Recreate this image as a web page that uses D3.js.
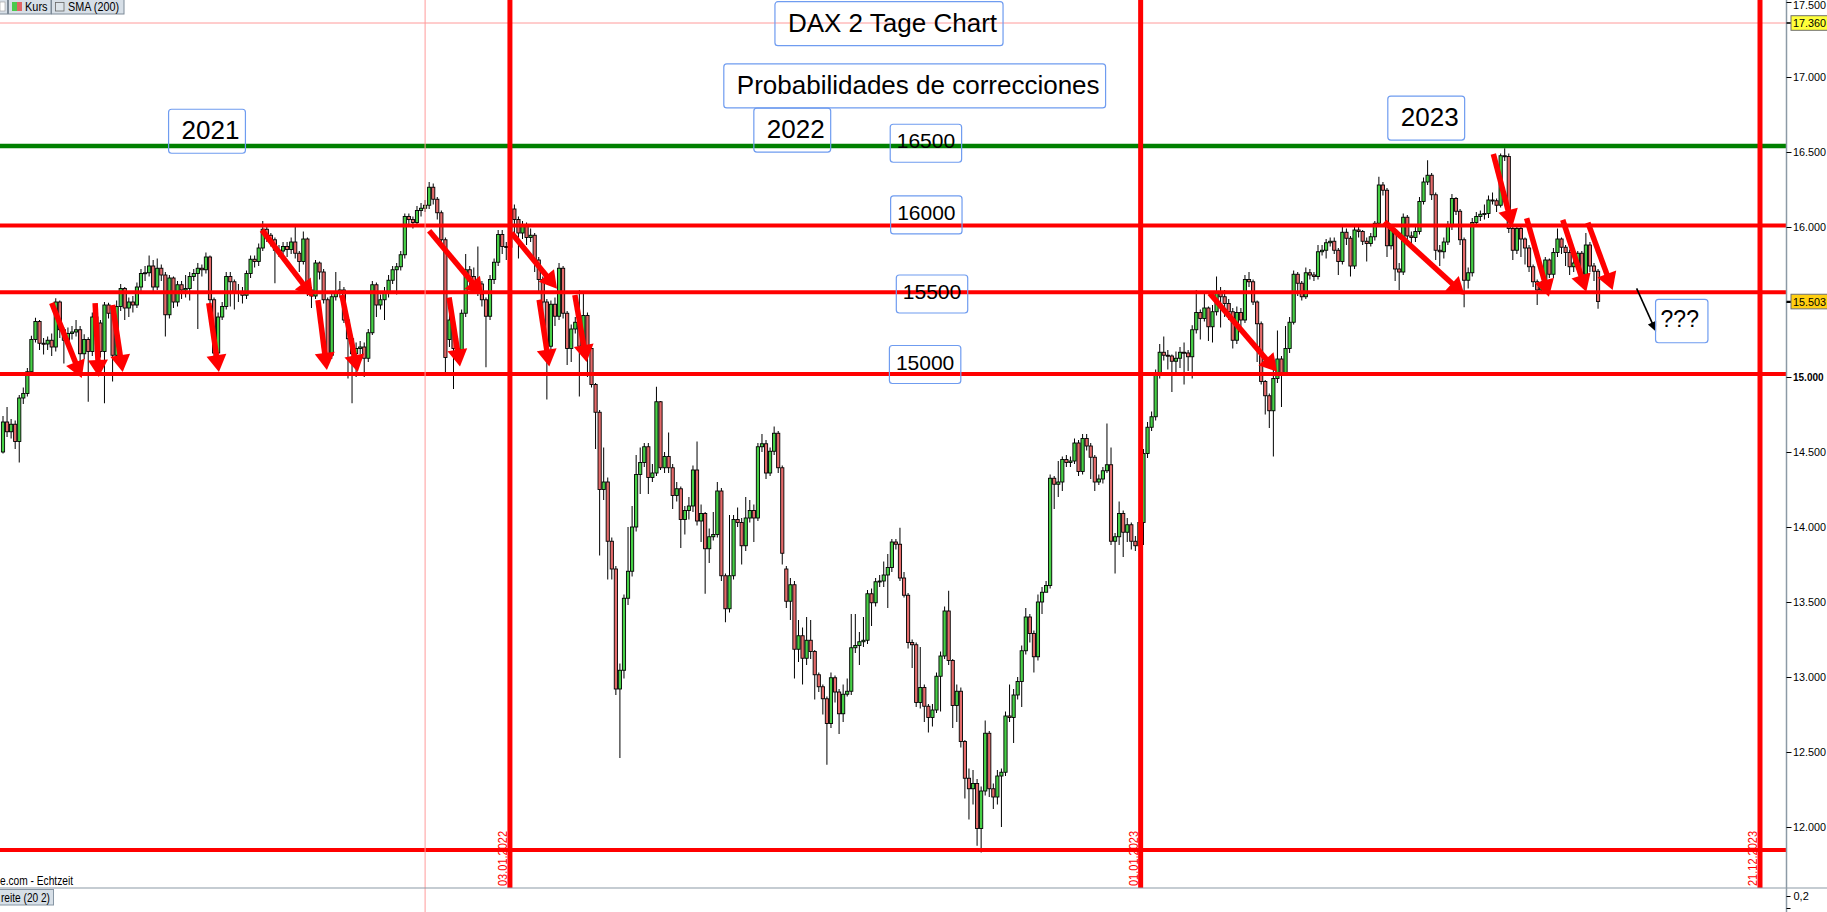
<!DOCTYPE html>
<html><head><meta charset="utf-8">
<script src="https://cdn.jsdelivr.net/npm/d3@7"></script>
<style>
html,body{margin:0;padding:0;background:#fff;overflow:hidden}
svg{display:block;font-family:"Liberation Sans",Arial,sans-serif}
</style></head><body>
<svg id="c" width="1827" height="912"></svg>
<script>
// ---------- DATA (2-day candles, DAX) ----------
const OPEN=[
14500,14700,14635,14685,14570,14860,14890,15035,15250,15370,
15225,15220,15245,15200,15500,15315,15245,15290,15300,15315,
15155,15250,15170,15400,15360,15170,15480,15425,15145,15470,
15590,15460,15500,15480,15600,15690,15695,15740,15600,15725,
15680,15415,15660,15500,15615,15580,15590,15670,15690,15725,
15715,15800,15515,15160,15400,15470,15670,15635,15570,15560,
15545,15690,15785,15770,15860,15985,15945,15915,15845,15840,
15870,15850,15900,15825,15770,15920,15580,15540,15760,15700,
15515,15145,15535,15570,15580,15380,15255,15155,15190,15200,
15125,15295,15615,15480,15515,15560,15645,15715,15735,15815,
16070,16050,16030,16110,16125,16145,16265,16185,16095,15915,
15250,15340,15190,15180,15425,15715,15670,15635,15620,15515,
15405,15650,15765,15950,15870,15865,16120,16050,15960,16005,
15930,15945,15780,15650,15500,15205,15485,15405,15725,15425,
15190,15320,15365,15205,15410,15190,14950,14765,14250,14300,
13905,13720,12920,13045,13525,13705,14000,14350,14430,14535,
14330,14360,14835,14395,14470,14395,14210,14255,14050,14110,
14140,14380,14040,14090,13855,13935,13950,14240,13675,13455,
13675,14050,14030,13875,14060,14110,14060,14535,14555,14360,
14505,14625,14395,13720,13505,13615,13185,13275,13125,13245,
13170,13015,12935,12855,12690,12995,12900,12755,12885,12905,
13195,13210,13235,13245,13555,13495,13635,13640,13680,13730,
13900,13885,13660,13545,13230,13215,12830,12930,12805,12730,
12780,13005,13140,13440,13110,12810,12905,12570,12325,12255,
12290,11990,12240,12625,12255,12200,12340,12365,12740,12730,
12880,12970,13175,13400,13290,13135,13500,13565,13610,14325,
14285,14300,14450,14430,14440,14560,14370,14590,14540,14465,
14300,14320,14375,14415,13905,13935,14090,13965,14015,13905,
13875,14030,14490,14665,14735,15015,15165,15145,15140,15105,
15125,15165,15160,15135,15315,15430,15390,15460,15335,15435,
15560,15535,15490,15435,15245,15430,15380,15650,15635,15500,
15355,14970,14875,14775,14990,15120,15030,15190,15365,15685,
15625,15535,15695,15680,15670,15835,15845,15895,15905,15845,
15770,15965,15925,15740,15980,15970,15905,15890,15935,16025,
16280,16245,15875,15980,15720,15700,16065,15940,15930,15970,
16170,16300,16345,16215,15845,15835,15900,16005,16190,16105,
15915,15645,15695,16030,16070,16085,16090,16180,16175,16145,
16475,16470,15990,15845,15990,15920,15860,15735,15635,15580,
15600,15780,15685,15830,15920,15865,15830,15735,15760,15825,
15685,15880,15740,15705];
const HIGH=[
14740,14800,14720,14710,14880,14930,15060,15275,15395,15380,
15260,15270,15290,15525,15510,15330,15330,15340,15380,15340,
15285,15265,15430,15420,15380,15500,15495,15440,15510,15620,
15600,15530,15540,15630,15720,15740,15810,15780,15790,15750,
15700,15680,15670,15640,15640,15680,15700,15720,15760,15750,
15830,15810,15530,15430,15500,15700,15700,15650,15620,15600,
15710,15810,15810,15890,16040,16000,15960,15930,15880,15900,
15900,15930,16000,15840,15970,15930,15600,15780,15770,15720,
15530,15560,15700,15640,15600,15400,15270,15230,15240,15230,
15320,15640,15630,15550,15600,15680,15740,15760,15840,16090,
16090,16070,16140,16160,16180,16300,16290,16200,16110,15930,
15420,15400,15260,15450,15820,15740,15730,15870,15640,15530,
15680,15790,15980,15980,15900,16295,16150,16070,16040,16030,
15990,15960,15800,15670,15520,15510,15530,15760,15740,15440,
15350,15400,15580,15560,15430,15200,14960,14780,14530,14330,
13930,13740,13090,13550,14000,14140,14480,14530,14560,14560,
14420,14935,14840,14500,14630,14420,14300,14270,14140,14200,
14410,14570,14150,14100,13990,14100,14300,14260,13690,14080,
14080,14130,14060,14200,14180,14150,14560,14620,14580,14530,
14670,14640,14410,13740,13660,13640,13380,13330,13400,13380,
13180,13030,12950,12870,13030,13010,12920,12950,12990,13420,
13420,13300,13400,13580,13590,13660,13680,13770,13820,13920,
13920,13995,13700,13560,13250,13230,13200,12950,12820,12820,
13030,13170,13470,13575,13120,12950,12930,12580,12390,12380,
12320,12270,12710,12640,12290,12380,12390,12770,12950,12920,
13000,13210,13460,13420,13310,13550,13600,13640,14350,14340,
14440,14470,14480,14470,14590,14580,14620,14620,14560,14480,
14350,14400,14690,14530,13960,14170,14110,14060,14030,13940,
14090,14520,14700,14770,15050,15220,15270,15180,15150,15170,
15200,15230,15180,15345,15580,15450,15560,15470,15480,15670,
15600,15580,15520,15460,15470,15460,15680,15700,15650,15510,
15370,14980,14890,15050,15310,15140,15340,15400,15710,15700,
15640,15730,15720,15700,15880,15880,15920,15930,15930,15860,
16000,15990,15940,16010,16010,15980,15930,15960,16040,16335,
16300,16260,16010,15990,15760,16090,16080,15970,16010,16200,
16330,16445,16360,16230,15880,15930,16040,16220,16200,16120,
15930,15730,16060,16100,16110,16150,16210,16230,16190,16490,
16525,16490,16000,16010,16000,15930,15880,15750,15650,15640,
15800,15790,15860,15990,15930,15880,15850,15800,15840,15840,
15960,15900,15760,15720];
const LOW=[
14490,14600,14590,14520,14430,14820,14870,15010,15230,15180,
15150,15180,15140,15170,15260,15090,15220,15250,15270,15100,
15120,14835,15140,15300,15130,14825,15390,14970,15120,15440,
15380,15400,15430,15460,15570,15640,15670,15560,15580,15640,
15270,15390,15460,15470,15520,15530,15510,15640,15320,15670,
15690,15480,15140,15140,15380,15450,15470,15450,15500,15490,
15520,15660,15730,15740,15840,15900,15870,15625,15800,15810,
15800,15820,15790,15700,15750,15540,15460,15520,15650,15490,
15120,15120,15510,15530,15360,14990,14825,15000,15150,15000,
15100,15280,15400,15450,15380,15530,15620,15550,15710,15790,
16010,15990,16000,16070,16100,16120,16150,16050,15880,15025,
15200,14920,15120,15160,15400,15600,15580,15540,15470,15065,
15380,15620,15740,15820,15780,15850,15960,15790,15920,15880,
15900,15700,15560,15350,14850,15170,15340,15380,15390,15080,
15100,15290,14870,15180,15000,14930,14520,13810,14180,13650,
13650,12880,12460,12990,13480,13670,13970,14220,14400,14220,
14300,14340,14380,14360,14360,14120,14170,13860,13950,14050,
14100,14010,13900,13555,13760,13910,13930,13640,13365,13430,
13650,14000,13750,13840,14030,13900,14040,14500,14320,14340,
14480,14360,13750,13460,13380,12990,13100,12950,13080,13120,
12850,12900,12750,12415,12660,12830,12620,12700,12870,12880,
13160,13080,13200,13220,13340,13470,13600,13600,13460,13700,
13850,13640,13530,13190,13060,12800,12790,12700,12630,12670,
12760,12770,13120,13080,12660,12700,12530,12190,12050,12150,
11875,11830,12210,12200,12120,12150,12000,12340,12700,12560,
12850,12800,13150,13230,13030,13110,13420,13570,13590,14120,
14200,14240,14400,14400,14420,14340,14350,14510,14320,14240,
14280,14290,14360,13880,13690,13880,13800,13900,13850,13840,
13800,13880,14460,14640,14710,14990,15110,15050,14900,15020,
15060,14950,15040,14990,15290,15250,15370,15240,15230,15410,
15330,15400,15380,15190,15220,15300,15360,15600,15480,15100,
14950,14750,14660,14470,14960,14800,15010,15160,15350,15540,
15510,15520,15650,15640,15650,15810,15790,15870,15820,15680,
15750,15880,15670,15720,15930,15880,15770,15870,15910,16000,
16210,15800,15850,15640,15580,15680,15900,15880,15900,15950,
16150,16280,16180,15780,15740,15790,15880,15980,16080,15880,
15465,15590,15670,16000,16040,16050,16060,16150,16100,16130,
16440,15960,15780,15820,15800,15750,15700,15600,15480,15560,
15580,15660,15660,15800,15820,15740,15680,15700,15730,15620,
15660,15700,15640,15455];
const CLOSE=[
14700,14635,14685,14570,14860,14890,15035,15250,15370,15225,
15220,15245,15200,15500,15315,15245,15290,15300,15315,15155,
15250,15170,15400,15360,15170,15480,15425,15145,15470,15590,
15460,15500,15480,15600,15690,15695,15740,15600,15725,15680,
15415,15660,15500,15615,15580,15590,15670,15690,15725,15715,
15800,15515,15160,15400,15470,15670,15635,15570,15560,15545,
15690,15785,15770,15860,15985,15945,15915,15845,15840,15870,
15850,15900,15825,15770,15920,15580,15540,15760,15700,15515,
15145,15535,15570,15580,15380,15255,15155,15190,15200,15125,
15295,15615,15480,15515,15560,15645,15715,15735,15815,16070,
16050,16030,16110,16125,16145,16265,16185,16095,15915,15130,
15380,15190,15180,15425,15715,15670,15635,15620,15515,15405,
15650,15765,15950,15870,15865,16120,16050,15960,16005,15930,
15945,15780,15650,15500,15205,15485,15405,15725,15425,15190,
15320,15365,15205,15410,15190,14950,14765,14250,14300,13905,
13720,12920,13045,13525,13705,14000,14350,14430,14535,14330,
14360,14835,14395,14470,14395,14210,14255,14050,14110,14140,
14380,14040,14090,13855,13935,13950,14240,13675,13455,13675,
14050,14030,13875,14060,14110,14060,14535,14555,14360,14505,
14625,14395,13825,13505,13615,13185,13275,13125,13245,13170,
13015,12935,12855,12690,12995,12900,12755,12885,12905,13195,
13210,13235,13245,13555,13495,13635,13640,13680,13730,13900,
13885,13660,13545,13230,13215,12830,12930,12805,12730,12780,
13005,13140,13440,13110,12810,12905,12570,12325,12255,12290,
11990,12240,12625,12255,12200,12340,12365,12740,12730,12880,
12970,13175,13400,13290,13135,13500,13565,13610,14325,14285,
14300,14450,14430,14440,14560,14370,14590,14540,14465,14300,
14320,14375,14415,13905,13935,14090,13965,14015,13905,13875,
14030,14490,14665,14735,15015,15165,15145,15140,15105,15125,
15165,15160,15135,15315,15430,15390,15460,15335,15435,15560,
15535,15490,15435,15245,15430,15380,15650,15635,15500,15355,
14970,14875,14775,14990,15120,15030,15190,15365,15685,15625,
15535,15695,15680,15670,15835,15845,15895,15905,15845,15770,
15965,15925,15740,15980,15970,15905,15890,15935,16025,16280,
16245,15875,15980,15720,15700,16065,15940,15930,15970,16170,
16300,16345,16215,15845,15835,15900,16005,16190,16105,15915,
15645,15695,16030,16070,16085,16090,16180,16175,16145,16475,
16470,15990,15845,15990,15920,15860,15735,15635,15580,15600,
15780,15685,15830,15920,15865,15830,15735,15760,15825,15685,
15880,15740,15705,15503];

const yTicks=[12000,12500,13000,13500,14000,14500,15000,15500,16000,16500,17000,17500];
const redLevels=[16010,15565,15020,11847];
const greenLevels=[16540];
const dateLines=[{label:"03.01.2022",idx:124.9},{label:"01.01.2023",idx:280.3},{label:"21.12.2023",idx:432.9}];
// red arrows: [startIdx, startPrice, endIdx, endPrice]
const redArrows=[
[12.0,15493,19.4,14993],[22.7,15493,23.6,15000],[27.0,15480,29.5,15033],
[50.7,15493,53.2,15033],[63.8,15980,76.4,15533],[77.6,15513,79.8,15047],
[83.5,15547,87.4,15033],[105.0,15975,118.3,15545],[109.9,15530,112.6,15070],
[125.3,15960,136.5,15589],[132.1,15515,134.6,15070],[140.9,15547,143.8,15100],
[297.3,15558,313.9,15035],[340.4,16035,360.1,15547],[367.2,16487,371.9,16002],
[375.4,16058,380.9,15535],[384.3,16047,390.1,15569],[390.5,16029,396.6,15580]];
const blackArrows=[[402.5,15591,407.3,15302]];
// text labels: text, anchor index, baseline price, style
const labelTexts=["DAX 2 Tage Chart","Probabilidades de correcciones","2021","2022","2023","16500","16000","15500","15000","???"];
const labelIdx=[193.4,180.8,44.0,188.2,344.4,220.2,220.3,221.7,220.0,408.4];
const labelPrice=[17302,16887,16585,16593,16673,16525,16047,15520,15050,15335];
const labelKind=["big","big","big","big","big","small","small","small","small","q"];
const crossIdx=104, crossPrice=17360;

// ---------- CHART ----------
const svg=d3.select("#c");
const plotRight=1786.5, plotBottom=888;
const x=d3.scaleLinear().domain([0,432.9]).range([3,1760]);
const y=d3.scaleLinear().domain([11500,17500]).range([902,2]);

svg.append("defs").append("clipPath").attr("id","clip").append("rect")
  .attr("x",0).attr("y",0).attr("width",plotRight).attr("height",plotBottom);
const plot=svg.append("g").attr("clip-path","url(#clip)");

// crosshair (pink)
svg.append("line").attr("x1",x(crossIdx)).attr("x2",x(crossIdx)).attr("y1",0).attr("y2",912)
  .attr("stroke","#ff9a9a").attr("stroke-width",1);
plot.append("line").attr("x1",0).attr("x2",plotRight).attr("y1",y(crossPrice)).attr("y2",y(crossPrice))
  .attr("stroke","#ff9a9a").attr("stroke-width",1);

// candles
const idx=d3.range(CLOSE.length);
plot.append("g").selectAll("line").data(idx).join("line")
  .attr("x1",i=>x(i)).attr("x2",i=>x(i))
  .attr("y1",i=>y(HIGH[i])).attr("y2",i=>y(LOW[i]))
  .attr("stroke","#000").attr("stroke-width",1);
plot.append("g").selectAll("rect").data(idx).join("rect")
  .attr("x",i=>x(i)-1.6).attr("width",3.2)
  .attr("y",i=>y(Math.max(OPEN[i],CLOSE[i])))
  .attr("height",i=>Math.max(1,Math.abs(y(OPEN[i])-y(CLOSE[i]))))
  .attr("fill",i=>CLOSE[i]>=OPEN[i]?"#46d046":"#e46a6a")
  .attr("stroke","#000").attr("stroke-width",0.9);

// horizontal levels
plot.append("g").selectAll("line").data(redLevels).join("line")
  .attr("x1",0).attr("x2",plotRight).attr("y1",d=>y(d)).attr("y2",d=>y(d))
  .attr("stroke","#ff0000").attr("stroke-width",4);
plot.append("g").selectAll("line").data(greenLevels).join("line")
  .attr("x1",0).attr("x2",plotRight).attr("y1",d=>y(d)).attr("y2",d=>y(d))
  .attr("stroke","#008000").attr("stroke-width",4.5);

// vertical date lines
plot.append("g").selectAll("line").data(dateLines).join("line")
  .attr("x1",d=>x(d.idx)).attr("x2",d=>x(d.idx)).attr("y1",0).attr("y2",plotBottom)
  .attr("stroke","#ff0000").attr("stroke-width",5);
svg.append("g").selectAll("text").data(dateLines).join("text")
  .attr("transform",d=>`translate(${x(d.idx)-3},886) rotate(-90)`)
  .attr("fill","#ff0000").attr("font-size",13)
  .attr("textLength",55).attr("lengthAdjust","spacingAndGlyphs")
  .text(d=>d.label);

// arrows
function drawArrow(g,a,color,sw,hl,hw){
  const x1=x(a[0]),y1=y(a[1]),x2=x(a[2]),y2=y(a[3]);
  const dx=x2-x1,dy=y2-y1,L=Math.hypot(dx,dy),ux=dx/L,uy=dy/L,px=-uy,py=ux;
  const bx=x2-ux*hl,by=y2-uy*hl;
  g.append("line").attr("x1",x1).attr("y1",y1).attr("x2",bx+ux*2).attr("y2",by+uy*2)
    .attr("stroke",color).attr("stroke-width",sw);
  g.append("path").attr("d",`M${x2},${y2}L${bx+px*hw},${by+py*hw}L${bx-px*hw},${by-py*hw}Z`)
    .attr("fill",color);
}
const ag=plot.append("g");
redArrows.forEach(a=>drawArrow(ag,a,"#ff0000",5.5,17,10));
blackArrows.forEach(a=>drawArrow(ag,a,"#000",1.6,10,4.5));

// text boxes
const kinds={big:{fs:26,pl:13,pr:6,pt:30,pb:14},small:{fs:21,pl:6.5,pr:6.5,pt:24,pb:14},q:{fs:23,pl:5,pr:9,pt:27.4,pb:16}};
const lg=svg.append("g");
labelTexts.forEach((t,k)=>{
  const s=kinds[labelKind[k]], tx=x(labelIdx[k]), ty=y(labelPrice[k]);
  const txt=lg.append("text").attr("x",tx).attr("y",ty).attr("font-size",s.fs).attr("fill","#000").text(t);
  const w=txt.node().getComputedTextLength();
  lg.insert("rect","text").attr("x",tx-s.pl).attr("y",ty-s.pt).attr("width",w+s.pl+s.pr).attr("height",s.pt+s.pb)
    .attr("rx",3).attr("fill","none").attr("stroke","#6f9cf0").attr("stroke-width",1.2);
});

// right axis
const loc=d3.formatLocale({decimal:",",thousands:".",grouping:[3],currency:["","€"]});
const fmt=loc.format(",.0f");
svg.append("line").attr("x1",plotRight).attr("x2",plotRight).attr("y1",0).attr("y2",912)
  .attr("stroke","#8c9aa6").attr("stroke-width",1.5);
const ax=svg.append("g").attr("transform",`translate(${plotRight},0)`)
  .call(d3.axisRight(y).tickValues(yTicks).tickFormat(fmt).tickSize(5).tickPadding(1.5));
ax.select(".domain").remove();
ax.attr("font-family","Liberation Sans, Arial, sans-serif").attr("font-size",10.8);
ax.selectAll(".tick text")
  .attr("font-weight",d=>d===15000?"bold":"normal")
  .attr("font-size",d=>d===15000?10:10.8)
  .attr("y",d=>d===17500?3.5:0);

// price tags
const tags=[{v:crossPrice,fill:"#ffff3a"},{v:CLOSE[CLOSE.length-1],fill:"#ffcf10"}];
const tg=svg.append("g");
tags.forEach(t=>{
  const ty=y(t.v);
  tg.append("line").attr("x1",plotRight).attr("x2",plotRight+6).attr("y1",ty).attr("y2",ty).attr("stroke","#000").attr("stroke-width",1.6);
  tg.append("rect").attr("x",plotRight+4.5).attr("y",ty-7.3).attr("width",40).attr("height",14.6)
    .attr("fill",t.fill).attr("stroke","#707070").attr("stroke-width",1);
  tg.append("text").attr("x",plotRight+6.5).attr("y",ty+4).attr("font-size",10.8)
    .attr("fill","#000").text(fmt(t.v));
});

// lower panel
svg.append("line").attr("x1",0).attr("x2",1827).attr("y1",plotBottom).attr("y2",plotBottom)
  .attr("stroke","#8c9aa6").attr("stroke-width",1.2);
const y2=d3.scaleLinear().domain([0.2,0.1]).range([896,908]);
const ax2=svg.append("g").attr("transform",`translate(${plotRight},0)`)
  .call(d3.axisRight(y2).tickValues([0.2,0.1]).tickFormat(d=>d===0.2?"0,2":"").tickSize(4).tickPadding(3));
ax2.select(".domain").remove();
ax2.attr("font-family","Liberation Sans, Arial, sans-serif").attr("font-size",11);

// bottom-left source & button
svg.append("text").attr("x",0).attr("y",885).attr("font-size",12.5)
  .attr("textLength",73).attr("lengthAdjust","spacingAndGlyphs").attr("fill","#000").text("e.com - Echtzeit");
svg.append("rect").attr("x",-2).attr("y",889.5).attr("width",55.5).attr("height",15.5)
  .attr("fill","#d7dfe7").attr("stroke","#8796a4");
svg.append("text").attr("x",1).attr("y",902).attr("font-size",12.5)
  .attr("textLength",49).attr("lengthAdjust","spacingAndGlyphs").attr("fill","#000").text("reite (20 2)");

// top-left toolbar
const tb=svg.append("g");
tb.append("rect").attr("x",-10).attr("y",-1).attr("width",17.5).attr("height",15).attr("fill","#d7dfe7").attr("stroke","#7d8a97");
tb.append("rect").attr("x",0).attr("y",2).attr("width",5).attr("height",9).attr("fill","#fff").attr("stroke","#999").attr("stroke-width",0.6);
tb.append("rect").attr("x",8.5).attr("y",-1).attr("width",42.5).attr("height",15).attr("fill","#d7dfe7").attr("stroke","#7d8a97");
tb.append("rect").attr("x",12).attr("y",2).attr("width",5).attr("height",9).attr("fill","#4cc94c");
tb.append("rect").attr("x",17).attr("y",2).attr("width",5).attr("height",9).attr("fill","#e06464");
tb.append("text").attr("x",25).attr("y",10.5).attr("font-size",12.5)
  .attr("textLength",22.5).attr("lengthAdjust","spacingAndGlyphs").text("Kurs");
tb.append("rect").attr("x",51.5).attr("y",-1).attr("width",72.5).attr("height",15).attr("fill","#d7dfe7").attr("stroke","#7d8a97");
tb.append("rect").attr("x",55.5).attr("y",2.5).attr("width",8.5).attr("height",8.5).attr("fill","#dde4ea").attr("stroke","#666").attr("stroke-width",0.8);
tb.append("text").attr("x",68).attr("y",10.5).attr("font-size",12.5)
  .attr("textLength",51).attr("lengthAdjust","spacingAndGlyphs").text("SMA (200)");
</script>
</body></html>
